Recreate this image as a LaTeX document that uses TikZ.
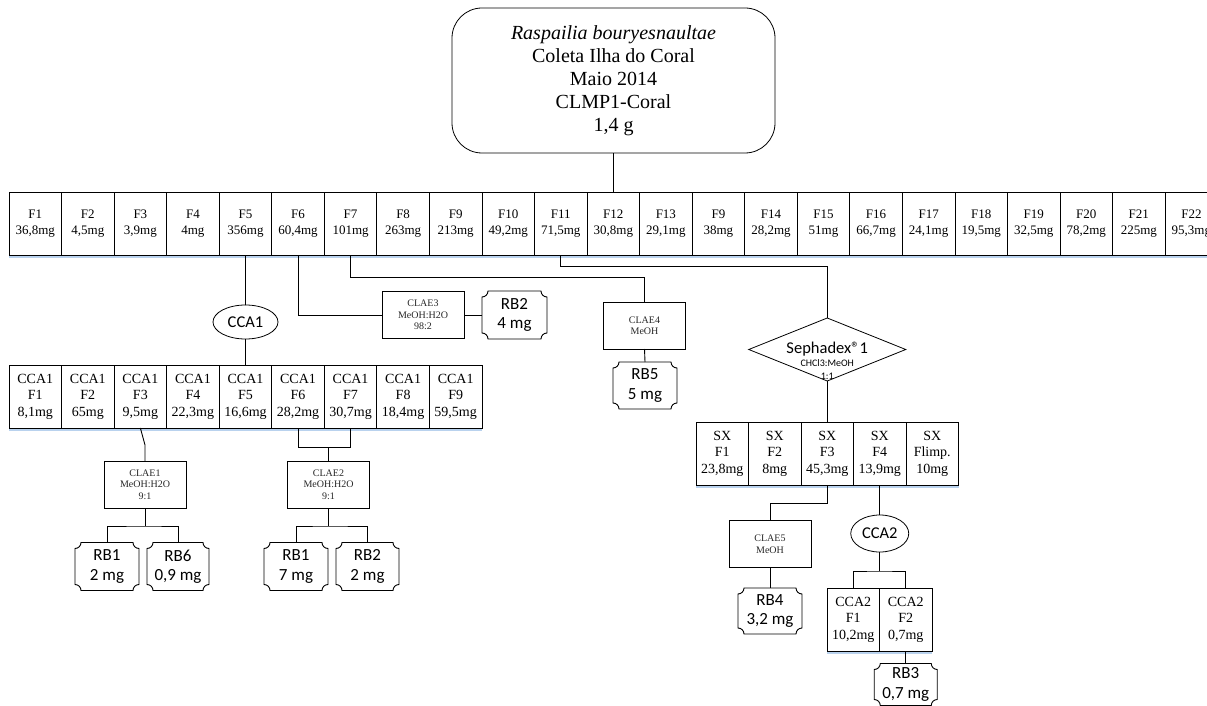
\documentclass[tikz,border=0pt]{standalone}
\usepackage{fontspec}
\setmainfont{Liberation Serif}
\newfontfamily\calibri{Carlito}
\usetikzlibrary{shapes.geometric}

\definecolor{shadowblue}{RGB}{185,210,238}

\tikzset{
  every node/.style={inner sep=0pt, outer sep=0pt},
  cell/.style={draw, line width=0.8pt, minimum width=52.55pt, minimum height=63pt, align=center},
  toprow/.style={cell, font=\fontsize{13}{16.7}\selectfont},
  subrow/.style={cell, font=\fontsize{14}{16.4}\selectfont},
  hplc/.style={draw, line width=0.8pt, minimum width=82pt, minimum height=47pt, align=center,
    font=\fontsize{10}{11.5}\selectfont, text=black!85},
  column/.style={draw, ellipse, line width=0.8pt, font=\calibri\fontsize{16.5}{18}\selectfont},
  plaque/.style={minimum width=64pt, minimum height=48pt, align=center,
    font=\calibri\fontsize{17}{19.5}\selectfont},
  link/.style={line width=0.9pt},
  band/.style={shadowblue, line width=1.6pt}
}

% outline of a box with concave (cut-in) corners around node #1
\newcommand\plaqueoutline[1]{%
  \draw[link] ([xshift=6pt]#1.north west) -- ([xshift=-6pt]#1.north east)
    arc[start angle=180,end angle=270,radius=6pt] -- ([yshift=6pt]#1.south east)
    arc[start angle=90,end angle=180,radius=6pt] -- ([xshift=6pt]#1.south west)
    arc[start angle=0,end angle=90,radius=6pt] -- ([yshift=-6pt]#1.north west)
    arc[start angle=270,end angle=360,radius=6pt] -- cycle;}

\begin{document}
\begin{tikzpicture}[x=1pt,y=1pt]
\useasboundingbox (0,0) rectangle (1207,-706);
\clip (0,0) rectangle (1207,-706);

% sample
\node[draw, rounded corners=30pt, line width=0.8pt, minimum width=323pt, minimum height=145pt,
  align=center, font=\fontsize{20}{23}\selectfont] (sample) at (613.5,-80.5)
  {\textit{Raspailia bouryesnaultae}\\Coleta Ilha do Coral\\Maio 2014\\CLMP1-Coral\\1,4 g};

% first fractionation
\draw[band] (9,-256.8) -- (1207,-256.8);
\foreach \lab/\val [count=\i] in {F1/36{,}8mg, F2/4{,}5mg, F3/3{,}9mg, F4/4mg, F5/356mg,
    F6/60{,}4mg, F7/101mg, F8/263mg, F9/213mg, F10/49{,}2mg, F11/71{,}5mg, F12/30{,}8mg,
    F13/29{,}1mg, F9/38mg, F14/28{,}2mg, F15/51mg, F16/66{,}7mg, F17/24{,}1mg, F18/19{,}5mg,
    F19/32{,}5mg, F20/78{,}2mg, F21/225mg, F22/95{,}3mg}
  \node[toprow] (r\i) at ({9+52.55*(\i-0.5)},-223.5) {\lab\\\val};

% CCA1 fractions
\draw[band] (9,-429.8) -- (482,-429.8);
\foreach \lab/\val [count=\i] in {F1/8{,}1mg, F2/65mg, F3/9{,}5mg, F4/22{,}3mg, F5/16{,}6mg,
    F6/28{,}2mg, F7/30{,}7mg, F8/18{,}4mg, F9/59{,}5mg}
  \node[subrow] (c\i) at ({9+52.55*(\i-0.5)},-396.5) {CCA1\\\lab\\\val};

% Sephadex fractions
\draw[band] (696,-486.8) -- (958.5,-486.8);
\foreach \lab/\val [count=\i] in {F1/23{,}8mg, F2/8mg, F3/45{,}3mg, F4/13{,}9mg, Flimp./10mg}
  \node[subrow] (s\i) at ({696+52.5*(\i-0.5)},-453.5) {SX\\\lab\\\val};

% CCA2 fractions
\draw[band] (827,-652.8) -- (932,-652.8);
\foreach \lab/\val [count=\i] in {F1/10{,}2mg, F2/0{,}7mg}
  \node[subrow] (d\i) at ({827+52.5*(\i-0.5)},-619.5) {CCA2\\\lab\\\val};

% columns
\node[column, minimum width=65pt, minimum height=34pt] (cca1) at (245.5,-322) {CCA1};
\node[column, minimum width=58pt, minimum height=37pt] (cca2) at (879.75,-533.5) {CCA2};

\node[minimum width=157pt, minimum height=63pt] (seph) at (827.25,-349.5) {};
\draw[link, line width=0.8pt] (seph.north) -- (seph.east) -- (seph.south) -- (seph.west) -- cycle;
\node[align=center, font=\calibri\fontsize{10}{13}\selectfont] (sephtext) at (827.25,-361)
  {{\fontsize{16.5}{13}\selectfont Sephadex®1}\\CHCl3:MeOH\\1:1};

% HPLC steps
\node[hplc] (clae1) at (145,-484.5) {CLAE1\\MeOH:H2O\\9:1};
\node[hplc] (clae2) at (328.5,-484.5) {CLAE2\\MeOH:H2O\\9:1};
\node[hplc] (clae3) at (423,-315) {CLAE3\\MeOH:H2O\\98:2};
\node[hplc] (clae4) at (644.5,-325.5) {CLAE4\\MeOH};
\node[hplc] (clae5) at (770,-544) {CLAE5\\MeOH};

% isolated compounds
\node[plaque] (rb1a) at (107,-566.5) {RB1\\2 mg};
\node[plaque, minimum width=62pt] (rb6) at (178,-566.5) {RB6\\0,9 mg};
\node[plaque] (rb1b) at (296,-566.5) {RB1\\7 mg};
\node[plaque, minimum width=63pt] (rb2b) at (367.5,-566.5) {RB2\\2 mg};
\node[plaque, minimum width=65pt] (rb2a) at (514.5,-315) {RB2\\4 mg};
\node[plaque, minimum height=47pt] (rb5) at (645,-385.5) {RB5\\5 mg};
\node[plaque, minimum height=46pt] (rb4) at (770,-611) {RB4\\3,2 mg};
\node[plaque, minimum width=63pt, minimum height=42pt] (rb3) at (905.75,-684.5) {RB3\\0,7 mg};
\foreach \n in {rb1a,rb6,rb1b,rb2b,rb2a,rb5,rb4,rb3} {\plaqueoutline{\n}}

% connectors
\draw[link] (sample.south) -- (sample.south |- r12.north);
\draw[link] (r5.south) -- (cca1.north);
\draw[link] (cca1.south) -- (c5.north);
\draw[link] (r6.south) |- (clae3.west);
\draw[link] (clae3.east) -- (rb2a.west);
\draw[link] (r7.south) -- ++(0,-22) -| (clae4.north);
\draw[link] (clae4.south) -- (rb5.north);
\draw[link] (r11.south) -- ++(0,-11) -| (seph.north);
\draw[link] (seph.south) -- (s3.north);
\draw[link] (s3.south) -- ++(0,-18) -| (clae5.north);
\draw[link] (clae5.south) -- (rb4.north);
\draw[link] (s4.south) -- (cca2.north);
\draw[link] (cca2.south) -- ++(0,-19) coordinate (j4);
\draw[link] (d1.north) |- (j4) -| (d2.north);
\draw[link] (d2.south) -- (rb3.north);

\draw[link] (c3.south) -- ([yshift=16pt]clae1.north) -- (clae1.north);
\draw[link] (clae1.south) -- ++(0,-18) coordinate (j1);
\draw[link] (rb1a.north) |- (j1) -| (rb6.north);

\draw[link] (c6.south) -- ++(0,-19) coordinate (j2) -| (c7.south);
\draw[link] (clae2.north) -- (clae2.north |- j2);
\draw[link] (clae2.south) -- ++(0,-18) coordinate (j3);
\draw[link] (rb1b.north) |- (j3) -| (rb2b.north);
\end{tikzpicture}
\end{document}
